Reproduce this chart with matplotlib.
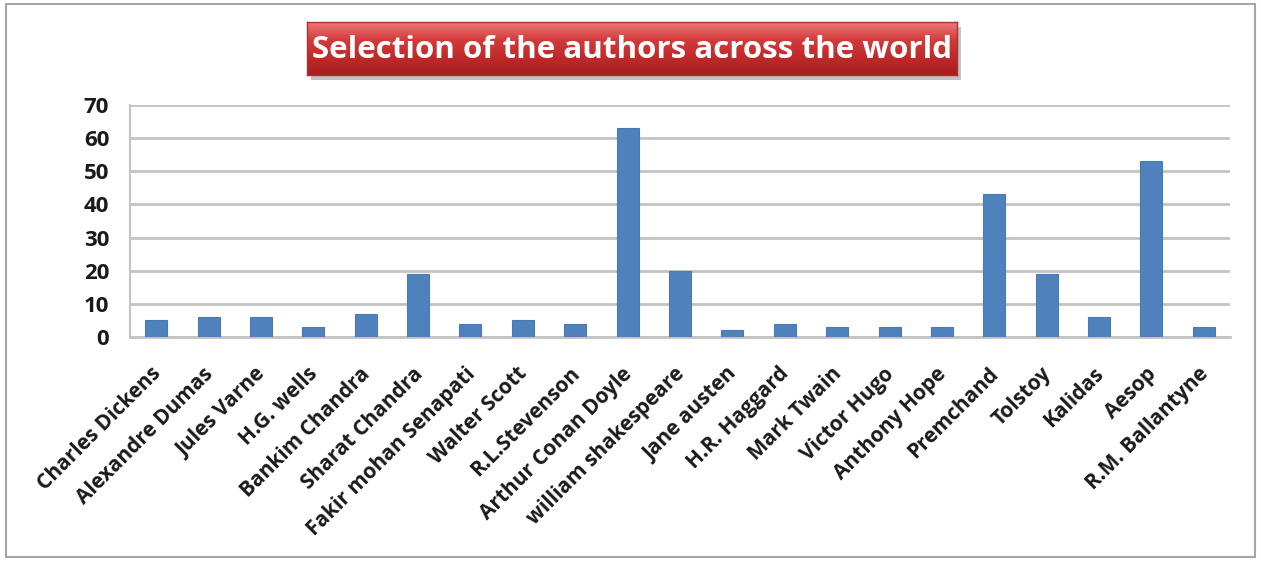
import matplotlib
matplotlib.use("Agg")
import matplotlib.pyplot as plt
import numpy as np
import matplotlib.transforms as mtransforms
from matplotlib.patches import Rectangle
from matplotlib.colors import LinearSegmentedColormap

authors = ["Charles Dickens", "Alexandre Dumas", "Jules Varne", "H.G. wells",
           "Bankim Chandra", "Sharat Chandra", "Fakir mohan Senapati", "Walter Scott",
           "R.L.Stevenson", "Arthur Conan Doyle", "william shakespeare", "Jane austen",
           "H.R. Haggard", "Mark Twain", "Victor Hugo", "Anthony Hope", "Premchand",
           "Tolstoy", "Kalidas", "Aesop", "R.M. Ballantyne"]
counts = [5, 6, 6, 3, 7, 19, 4, 5, 4, 63, 20, 2, 4, 3, 3, 3, 43, 19, 6, 53, 3]
yticks = [0, 10, 20, 30, 40, 50, 60, 70]
title = "Selection of the authors across the world"

W, H = 1261, 561
fig = plt.figure(figsize=(W / 100, H / 100), dpi=100)
fig.patch.set_facecolor("white")

# outer frame
fig.patches.append(Rectangle((6 / W, 4 / H), 1 - 12 / W, 1 - 8 / H, transform=fig.transFigure,
                             fill=False, edgecolor="#a6a6a6", linewidth=1.5))

left, right, top, bottom = 130, 1230, 105, 337
ax = fig.add_axes([left / W, 1 - bottom / H, (right - left) / W, (bottom - top) / H])
x = np.arange(len(authors))
ax.bar(x, counts, width=0.42, color="#4f81bd", edgecolor="#4a7ab5", linewidth=0.8, zorder=3)
ax.set_xlim(-0.5, len(authors) - 0.5)
ax.set_ylim(0, 70)
ax.yaxis.grid(True, color="#c3c3c3", linewidth=2, zorder=0)
ax.set_axisbelow(True)
for s in ["top", "right"]:
    ax.spines[s].set_visible(False)
ax.spines["left"].set_color("#c3c3c3")
ax.spines["left"].set_linewidth(1.5)
ax.spines["bottom"].set_color("#c3c3c3")
ax.spines["bottom"].set_linewidth(2)
ax.tick_params(axis="both", length=0)
ax.tick_params(axis="y", pad=15)
ax.set_yticks(yticks)
ax.set_yticklabels([str(v) for v in yticks], fontsize=16, fontweight="bold",
                   family=["Open Sans", "DejaVu Sans"], color="#1a1a1a")
ax.set_xticks(x)
ax.set_xticklabels(authors, rotation=45, ha="right", rotation_mode="anchor",
                   fontsize=15, fontweight="bold", family=["Open Sans", "DejaVu Sans"],
                   color="#1a1a1a")
ax.tick_params(axis="x", pad=19)
offset = mtransforms.ScaledTranslation(-6 / 100, 0, fig.dpi_scale_trans)
for lab in ax.get_xticklabels():
    lab.set_transform(lab.get_transform() + offset)

# title box with gradient and shadow
bx0, bx1, by0, by1 = 307, 957, 22, 75
fig.patches.append(Rectangle(((bx0 + 4) / W, 1 - (by1 + 5) / H), (bx1 - bx0) / W, (by1 - by0) / H,
                             transform=fig.transFigure, facecolor="#9a9a9a", edgecolor="none",
                             alpha=0.6, zorder=1))
tax = fig.add_axes([bx0 / W, 1 - by1 / H, (bx1 - bx0) / W, (by1 - by0) / H], zorder=5)
grad = np.linspace(0, 1, 100).reshape(-1, 1)
cmap = LinearSegmentedColormap.from_list("r", ["#ee7a7a", "#d23b3b", "#c02a2a", "#a81e1e"])
tax.imshow(grad, aspect="auto", cmap=cmap, extent=[0, 1, 0, 1], origin="upper")
tax.set_xticks([])
tax.set_yticks([])
for s in tax.spines.values():
    s.set_color("#b03030")
    s.set_linewidth(1)
tax.text(0.5, 0.48, title, ha="center", va="center", color="white", fontsize=22.5,
         fontweight="bold", family=["Open Sans", "DejaVu Sans"], transform=tax.transAxes)

fig.savefig("out.png", dpi=100, facecolor="white")
